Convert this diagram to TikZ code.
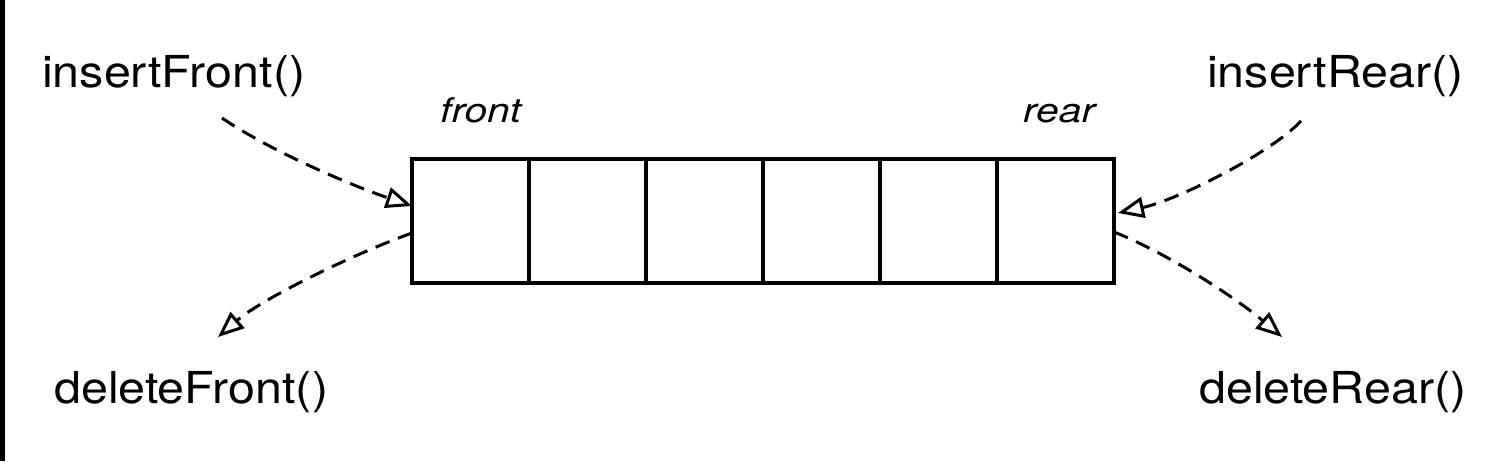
\documentclass[tikz,border=0pt]{standalone}
\usepackage{fontspec}
\setmainfont{TeX Gyre Heros}
\usetikzlibrary{arrows.meta}
\tikzset{
  cell/.style={draw, line width=3.2pt, minimum width=117pt, minimum height=124pt, inner sep=0pt, outer sep=0pt, anchor=north west},
  oplabel/.style={anchor=base west, inner sep=0pt, font=\fontsize{44}{50}\selectfont},
  endlabel/.style={anchor=base west, inner sep=0pt, font=\fontsize{34}{40}\selectfont\itshape},
  dasharrow/.style={line width=3pt, dash pattern=on 15pt off 9pt, -{Triangle[open, length=26pt, width=21pt, line width=3pt]}}
}
\begin{document}
\begin{tikzpicture}[x=1pt, y=-1pt]
\useasboundingbox (0,0) rectangle (1506,461);
\fill[black] (0,0) rectangle (4.5,461);
% cells
\node[cell] (c1) at (412,159) {};
\node[cell] (c2) at (529,159) {};
\node[cell] (c3) at (646,159) {};
\node[cell] (c4) at (763,159) {};
\node[cell] (c5) at (880,159) {};
\node[cell] (c6) at (997,159) {};
% labels
\node[oplabel] (insF) at (42,87) {\scalebox{1.1}[1]{insertFront()}};
\node[oplabel] (delF) at (54,403) {\scalebox{1.1}[1]{deleteFront()}};
\node[oplabel] (insR) at (1207,87) {\scalebox{1.1}[1]{insertRear()}};
\node[oplabel] (delR) at (1199,403) {\scalebox{1.1}[1]{deleteRear()}};
\node[endlabel] (frontlbl) at (440,122) {\scalebox{1.2}[1]{front}};
\node[endlabel] (rearlbl) at (1023,122) {\scalebox{1.2}[1]{rear}};
% connector end points
\coordinate (insFs) at (222,118);
\coordinate (insFe) at (c1.west |- 0,206);
\coordinate (delFs) at (c1.west |- 0,233);
\coordinate (delFe) at (218,337);
\coordinate (insRs) at (1301,121);
\coordinate (insRe) at (1118,213);
\coordinate (delRs) at (c6.east |- 0,232);
\coordinate (delRe) at (1282,337);
% connectors
\draw[dasharrow] (insFs) .. controls (272,152) and (353,186) .. (insFe);
\draw[dasharrow] (delFs) .. controls (356,253) and (263,298) .. (delFe);
\draw[dasharrow] (insRs) .. controls (1270,154) and (1177,200) .. (insRe);
\draw[dasharrow] (delRs) .. controls (1169,254) and (1236,298) .. (delRe);
\end{tikzpicture}
\end{document}
